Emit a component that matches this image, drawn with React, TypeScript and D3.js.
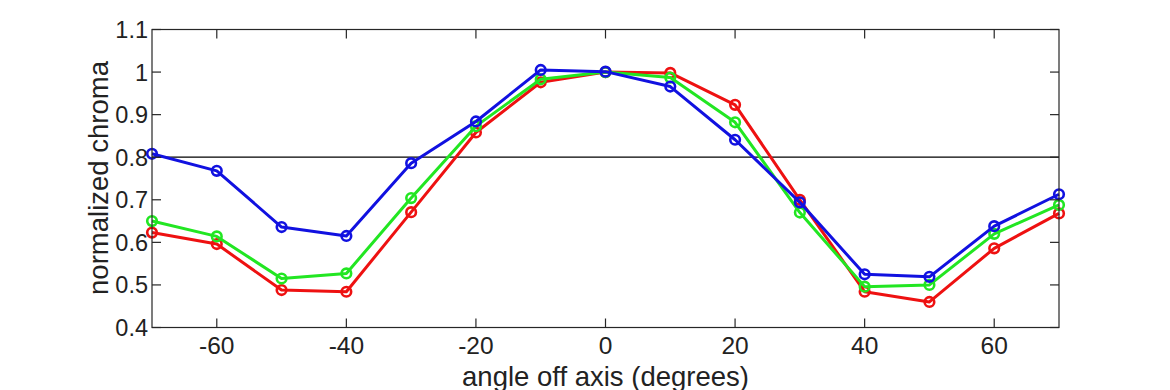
import { useEffect, useRef } from "react"
import * as d3 from "d3"

const angles = [-70, -60, -50, -40, -30, -20, -10, 0, 10, 20, 30, 40, 50, 60, 70]
const redValues = [0.623, 0.596, 0.488, 0.484, 0.671, 0.858, 0.976, 1.0, 0.998, 0.923, 0.7, 0.484, 0.46, 0.586, 0.668]
const greenValues = [0.65, 0.614, 0.515, 0.527, 0.704, 0.873, 0.983, 1.0, 0.987, 0.882, 0.67, 0.496, 0.5, 0.62, 0.688]
const blueValues = [0.808, 0.768, 0.636, 0.615, 0.786, 0.884, 1.005, 1.001, 0.966, 0.841, 0.694, 0.525, 0.519, 0.638, 0.713]
const xTicks = [-60, -40, -20, 0, 20, 40, 60]
const yTicks = [0.4, 0.5, 0.6, 0.7, 0.8, 0.9, 1, 1.1]
const threshold = 0.8

const series = [
  { name: "red", color: "#ee1111", values: redValues },
  { name: "green", color: "#22e622", values: greenValues },
  { name: "blue", color: "#1111e0", values: blueValues },
]

export default function App() {
  const svgRef = useRef(null)

  useEffect(() => {
    document.body.style.margin = "0"
    if (!svgRef.current) return
    const svg = d3.select(svgRef.current)
    svg.selectAll("*").remove()

    const width = 1170
    const height = 390
    const margin = { top: 29.5, right: 111, bottom: 62.5, left: 152 }
    const innerWidth = width - margin.left - margin.right
    const innerHeight = height - margin.top - margin.bottom
    const font = "'Liberation Sans', Arial, Helvetica, sans-serif"
    const axisColor = "#262626"

    const x = d3.scaleLinear().domain([-70, 70]).range([0, innerWidth])
    const y = d3.scaleLinear().domain([0.4, 1.1]).range([innerHeight, 0])

    const g = svg.append("g").attr("transform", `translate(${margin.left},${margin.top})`)

    // 阈值线
    g.append("line")
      .attr("x1", 0)
      .attr("x2", innerWidth)
      .attr("y1", y(threshold))
      .attr("y2", y(threshold))
      .attr("stroke", "#000")
      .attr("stroke-width", 1.3)

    const line = d3
      .line<number>()
      .x((_, i) => x(angles[i]))
      .y((d) => y(d))

    series.forEach((s) => {
      g.append("path")
        .datum(s.values)
        .attr("fill", "none")
        .attr("stroke", s.color)
        .attr("stroke-width", 3)
        .attr("stroke-linejoin", "round")
        .attr("d", line)

      g.selectAll(`circle.${s.name}`)
        .data(s.values)
        .enter()
        .append("circle")
        .attr("class", s.name)
        .attr("cx", (_, i) => x(angles[i]))
        .attr("cy", (d) => y(d))
        .attr("r", 4.8)
        .attr("fill", "none")
        .attr("stroke", s.color)
        .attr("stroke-width", 2.6)
    })

    // 坐标框
    g.append("rect")
      .attr("width", innerWidth)
      .attr("height", innerHeight)
      .attr("fill", "none")
      .attr("stroke", axisColor)
      .attr("stroke-width", 1.2)

    const tickLen = 9
    xTicks.forEach((t) => {
      g.append("line")
        .attr("x1", x(t)).attr("x2", x(t))
        .attr("y1", innerHeight).attr("y2", innerHeight - tickLen)
        .attr("stroke", axisColor).attr("stroke-width", 1.2)
      g.append("line")
        .attr("x1", x(t)).attr("x2", x(t))
        .attr("y1", 0).attr("y2", tickLen)
        .attr("stroke", axisColor).attr("stroke-width", 1.2)
      g.append("text")
        .attr("x", x(t))
        .attr("y", innerHeight + 26)
        .attr("text-anchor", "middle")
        .attr("font-family", font)
        .attr("font-size", 24.5)
        .attr("fill", "#222")
        .text(String(t))
    })

    yTicks.forEach((t) => {
      g.append("line")
        .attr("x1", 0).attr("x2", tickLen)
        .attr("y1", y(t)).attr("y2", y(t))
        .attr("stroke", axisColor).attr("stroke-width", 1.2)
      g.append("line")
        .attr("x1", innerWidth).attr("x2", innerWidth - tickLen)
        .attr("y1", y(t)).attr("y2", y(t))
        .attr("stroke", axisColor).attr("stroke-width", 1.2)
      g.append("text")
        .attr("x", -4)
        .attr("y", y(t))
        .attr("dy", "0.36em")
        .attr("text-anchor", "end")
        .attr("font-family", font)
        .attr("font-size", 23.5)
        .attr("fill", "#222")
        .text(String(t))
    })

    // 轴标题
    g.append("text")
      .attr("x", innerWidth / 2)
      .attr("y", innerHeight + 58)
      .attr("text-anchor", "middle")
      .attr("font-family", font)
      .attr("font-size", 27.5)
      .attr("fill", "#222")
      .text("angle off axis (degrees)")

    g.append("text")
      .attr("transform", `translate(${-44},${148.5}) rotate(-90)`)
      .attr("text-anchor", "middle")
      .attr("font-family", font)
      .attr("font-size", 27.5)
      .attr("fill", "#222")
      .text("normalized chroma")
  }, [])

  return <svg ref={svgRef} width={1170} height={390} style={{ display: "block" }}></svg>
}
